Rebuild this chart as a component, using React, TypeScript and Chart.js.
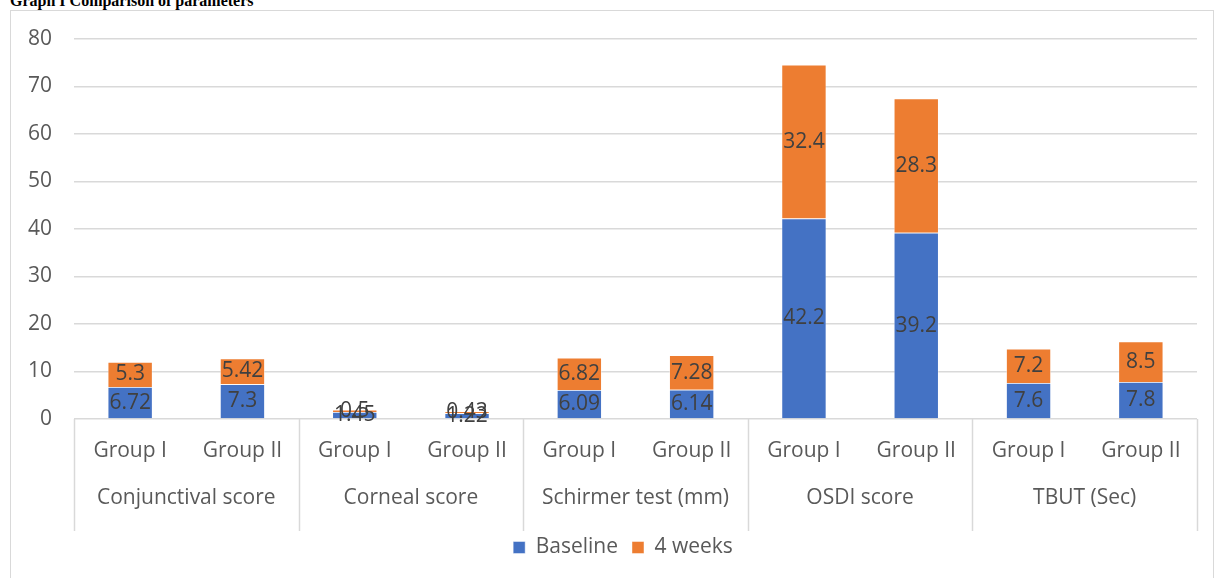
import React, { useEffect, useRef } from "react";
import { Chart, registerables } from "chart.js";

Chart.register(...registerables);

const groups = ["Group I", "Group II", "Group I", "Group II", "Group I", "Group II", "Group I", "Group II", "Group I", "Group II"];
const parameters = ["Conjunctival score", "Corneal score", "Schirmer test (mm)", "OSDI score", "TBUT (Sec)"];
const baseline = [6.72, 7.3, 1.45, 1.22, 6.09, 6.14, 42.2, 39.2, 7.6, 7.8];
const weeks4 = [5.3, 5.42, 0.5, 0.43, 6.82, 7.28, 32.4, 28.3, 7.2, 8.5];
const seriesNames = ["Baseline", "4 weeks"];
const yMin = 0;
const yMax = 80;
const yStep = 10;

const FONT = "'Open Sans', 'Noto Sans', sans-serif";
const FS = 21;
const TEXT = "#595959";
const GRID = "#d9d9d9";

const valueLabels = {
  id: "valueLabels",
  afterDatasetsDraw(chart: any) {
    const ctx = chart.ctx;
    ctx.save();
    ctx.font = `${FS}px ${FONT}`;
    ctx.fillStyle = "#404040";
    ctx.textAlign = "center";
    ctx.textBaseline = "middle";
    chart.data.datasets.forEach((ds: any, di: number) => {
      const meta = chart.getDatasetMeta(di);
      meta.data.forEach((el: any, i: number) => {
        const p = el.getProps(["x", "y", "base"], true);
        ctx.fillText(String(ds.data[i]), p.x, (p.y + p.base) / 2);
      });
    });
    ctx.restore();
  },
};

const separators = {
  id: "separators",
  afterLayout(chart: any) {
    if (chart.legend) {
      chart.legend.left += 38;
    }
  },
  afterDraw(chart: any) {
    const x2 = chart.scales.x2;
    const ctx = chart.ctx;
    const n = parameters.length;
    const step = (chart.chartArea.right - chart.chartArea.left) / n;
    ctx.save();
    ctx.strokeStyle = GRID;
    ctx.lineWidth = 1.5;
    for (let i = 0; i <= n; i++) {
      const x = Math.round(chart.chartArea.left + i * step) + 0.5;
      ctx.beginPath();
      ctx.moveTo(x, chart.chartArea.bottom);
      ctx.lineTo(x, x2.bottom + 8);
      ctx.stroke();
    }
    ctx.restore();
  },
};

export default function App() {
  const ref = useRef<HTMLCanvasElement | null>(null);

  useEffect(() => {
    if (!ref.current) return;
    const chart = new Chart(ref.current, {
      type: "bar",
      data: {
        labels: groups,
        datasets: [
          {
            label: seriesNames[0],
            data: baseline,
            backgroundColor: "#4472C4",
            borderColor: "rgba(255,255,255,0.6)",
            borderWidth: 0.75,
            categoryPercentage: 1,
            barPercentage: 0.4,
          },
          {
            label: seriesNames[1],
            data: weeks4,
            backgroundColor: "#ED7D31",
            borderColor: "rgba(255,255,255,0.6)",
            borderWidth: 0.75,
            categoryPercentage: 1,
            barPercentage: 0.4,
          },
        ],
      },
      options: {
        responsive: false,
        animation: false,
        layout: { padding: { left: 0, right: 16, top: 28, bottom: 10 } },
        plugins: {
          tooltip: { enabled: false },
          title: { display: false },
          legend: {
            position: "bottom",
            labels: {
              boxWidth: 12,
              boxHeight: 12,
              padding: 14,
              color: TEXT,
              font: { family: FONT, size: FS },
            },
          },
        },
        scales: {
          y: {
            stacked: true,
            min: yMin,
            max: yMax,
            ticks: { stepSize: yStep, padding: 22, color: TEXT, font: { family: FONT, size: FS } },
            grid: { color: GRID, lineWidth: 1.5, drawTicks: false },
            border: { display: false },
            afterFit: (s: any) => {
              s.width = 63;
              s.paddingTop = 0;
              s.paddingBottom = 0;
            },
          },
          x: {
            stacked: true,
            offset: true,
            ticks: { padding: 19, color: TEXT, font: { family: FONT, size: FS }, maxRotation: 0, autoSkip: false },
            grid: { display: false, drawTicks: false },
            border: { display: false },
            afterFit: (s: any) => { s.height = 47; },
          },
          x2: {
            type: "category",
            position: "bottom",
            labels: parameters,
            offset: true,
            ticks: { padding: 19, color: TEXT, font: { family: FONT, size: FS }, maxRotation: 0, autoSkip: false },
            grid: { display: false, drawTicks: false },
            border: { display: false },
            afterFit: (s: any) => { s.height = 57; },
          },
        },
      },
      plugins: [valueLabels, separators],
    } as any);
    return () => chart.destroy();
  }, []);

  return (
    <div style={{ position: "absolute", left: 0, top: 0, width: 1215, height: 578, overflow: "hidden", background: "#fff" }}>
      <div
        style={{
          position: "absolute",
          left: 10,
          top: -8,
          fontFamily: "'Liberation Serif', 'Times New Roman', serif",
          fontWeight: "bold",
          fontSize: 16,
          whiteSpace: "nowrap",
          color: "#000",
        }}
      >
        Graph I Comparison of parameters
      </div>
      <div
        style={{
          position: "absolute",
          left: 10,
          top: 10,
          width: 1202,
          height: 600,
          border: `1px solid ${GRID}`,
        }}
      >
        <canvas ref={ref} width={1202} height={567} style={{ position: "absolute", left: 0, top: 0, width: 1202, height: 567 }} />
      </div>
    </div>
  );
}
